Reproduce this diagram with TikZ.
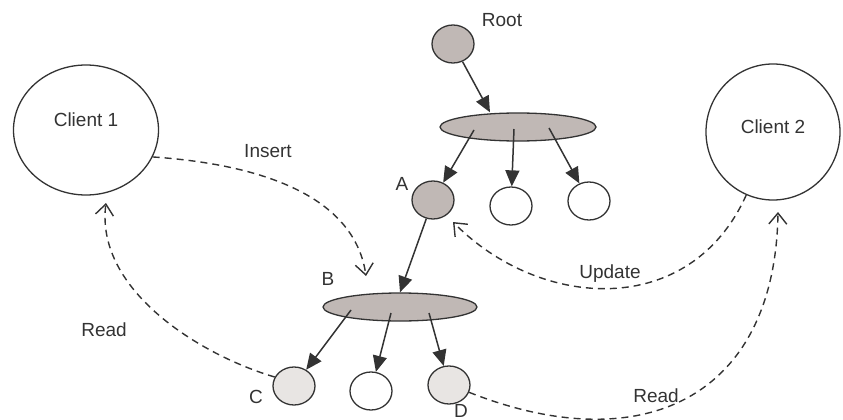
\documentclass[tikz,border=0pt]{standalone}
\usepackage{fontspec}
\setmainfont{Liberation Sans}
\usetikzlibrary{shapes.geometric,arrows.meta}
\definecolor{keygray}{HTML}{C0B8B5}
\definecolor{leafgray}{HTML}{E8E5E3}
\definecolor{ink}{HTML}{333333}
\begin{document}
\begin{tikzpicture}[x=1pt,y=-1pt,
    every node/.style={font=\fontsize{19}{21}\selectfont,text=ink},
    item/.style={ellipse,draw=ink,line width=1.3pt,minimum width=42pt,minimum height=38pt,inner sep=0pt},
    bucket/.style={ellipse,draw=ink,fill=keygray,line width=1.3pt,minimum width=156pt,minimum height=28pt,inner sep=0pt},
    client/.style={ellipse,draw=ink,line width=1.3pt,inner sep=0pt},
    link/.style={draw=ink,line width=1.5pt,-{Triangle[length=16pt,width=14pt]}},
    msg/.style={draw=ink,line width=1.4pt,dash pattern=on 7pt off 5pt,-{Straight Barb[length=11pt,width=18pt]}}]
  \useasboundingbox (0,0) rectangle (843,420);

  % clients
  \node[client,minimum width=145pt,minimum height=130pt,label={[yshift=10pt]center:Client 1}] (c1) at (86,130) {};
  \node[client,minimum width=134pt,minimum height=136pt,label={[yshift=5pt]center:Client 2}] (c2) at (773,132) {};

  % tree
  \node[item,fill=keygray] (root) at (453,44) {};
  \node[bucket] (upper) at (518,127) {};
  \node[item,fill=keygray] (a) at (433,200) {};
  \node[item] (m1) at (511,206) {};
  \node[item] (m2) at (589,201) {};
  \node[bucket,minimum width=154pt] (b) at (400,307) {};
  \node[item,fill=leafgray] (c) at (294,386) {};
  \node[item] (m3) at (371,391) {};
  \node[item,fill=leafgray] (d) at (449,385) {};

  \node[anchor=base] at (502,27) {Root};
  \node[anchor=base] at (402,190) {A};
  \node[anchor=base] at (328,285) {B};
  \node[anchor=base] at (256,403) {C};
  \node[anchor=base,inner sep=0pt] at (461,417) {D};

  \draw[link] (root) -- ([xshift=-28pt]upper.north);
  \draw[link] ([xshift=-44pt,yshift=-3pt]upper.center) -- (a);
  \draw[link] ([xshift=-4pt,yshift=-2pt]upper.center) -- (m1);
  \draw[link] ([xshift=31pt,yshift=-1pt]upper.center) -- (m2);
  \draw[link] (a) -- (b.north);
  \draw[link] ([xshift=-49pt,yshift=-3pt]b.center) -- (c);
  \draw[link] ([xshift=-9pt,yshift=-6pt]b.center) -- (m3);
  \draw[link] ([xshift=29pt,yshift=-6pt]b.center) -- (d);

  % messages
  \draw[msg] (c1.-22) .. controls (270,165) and (355,200) .. ([xshift=-34pt,yshift=31pt]b.center);
  \draw[msg] (c.155) .. controls (200,355) and (95,290) .. ([xshift=20pt,yshift=-73pt]c1.center);
  \draw[msg] (c2.-113) .. controls (690,320) and (540,310) .. ([xshift=20pt,yshift=-22pt]a.center);
  \draw[msg] (d.-20) .. controls (640,460) and (775,400) .. ([xshift=5pt,yshift=-80pt]c2.center);

  \node[anchor=base] at (268,157) {Insert};
  \node[anchor=base] at (104,336) {Read};
  \node[anchor=base] at (610,278) {Update};
  \node[anchor=base] at (656,402) {Read};
\end{tikzpicture}
\end{document}
